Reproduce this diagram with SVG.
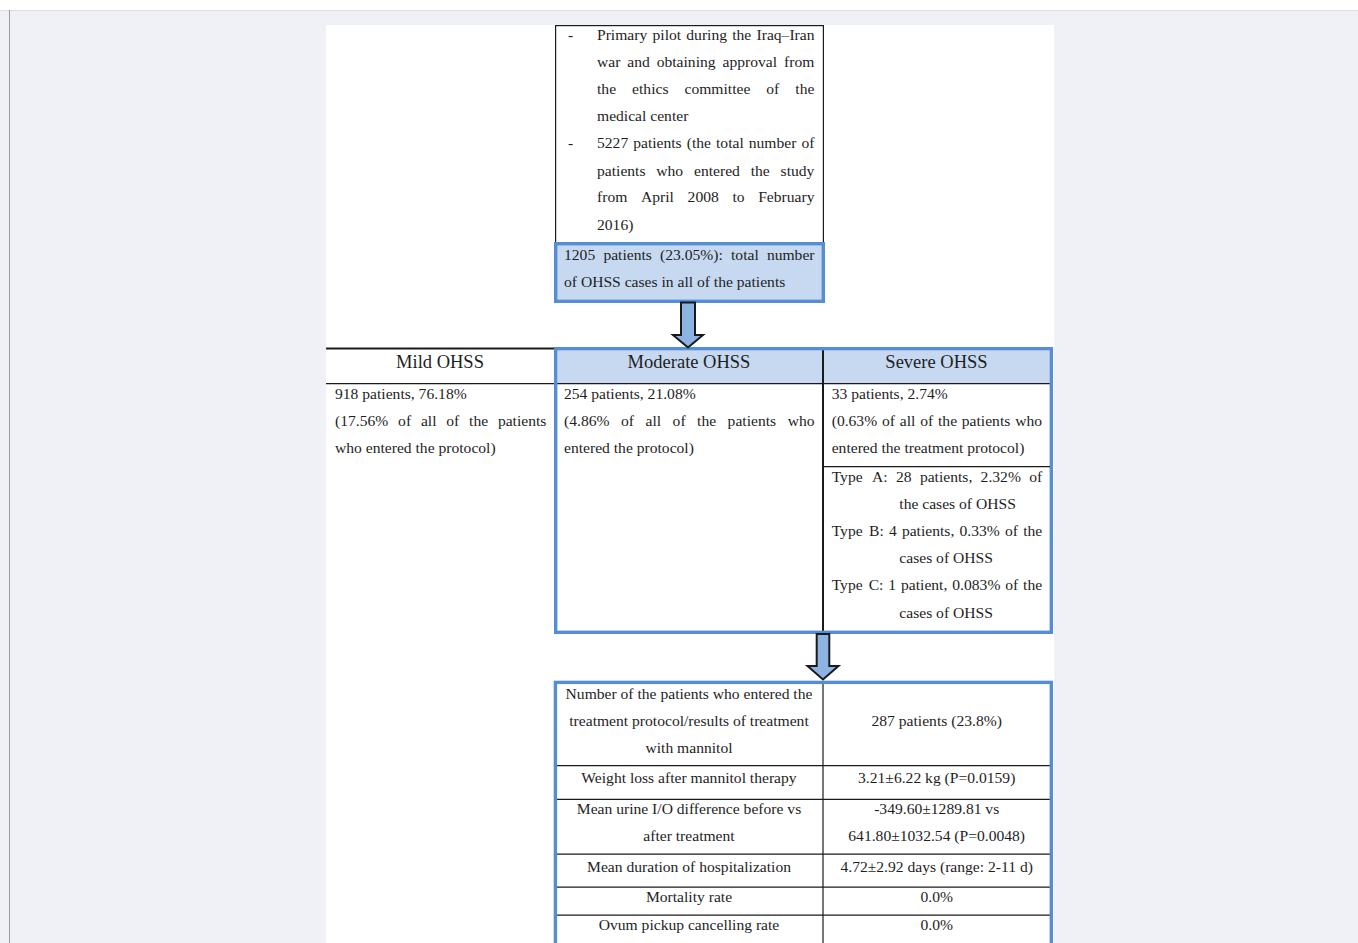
<svg xmlns="http://www.w3.org/2000/svg" width="1358" height="943" viewBox="0 0 1358 943" font-family="'Liberation Serif', 'Times New Roman', Times, serif">
<style>
  text { font-family: 'Liberation Serif', 'Times New Roman', Times, serif; font-size: 15.6px; fill: #1e1e1e; }
  .hd { font-size: 18.5px; }
  .c { text-anchor: middle; }
  .blue { stroke: #558ed5; stroke-width: 3.4; }
  .nofill { fill: none; }
  .lbfill { fill: #c6d9f1; }
  .ln { stroke: #1a1a1a; stroke-width: 1.2; fill: none; }
  .ln2 { stroke: #1a1a1a; stroke-width: 2; fill: none; }
  .arrow { fill: #8db3e2; stroke: #1a1a1a; stroke-width: 2; stroke-linejoin: miter; }
</style>
<!-- page background -->
<rect x="0" y="0" width="1358" height="943" fill="#ffffff"/>
<rect x="0" y="10" width="1358" height="933" fill="#f0f1f6"/>
<line x1="0" y1="10.5" x2="1358" y2="10.5" stroke="#dcdee3" stroke-width="1"/>
<line x1="9.5" y1="10" x2="9.5" y2="943" stroke="#9a9a9a" stroke-width="1"/>
<rect x="326" y="25" width="728" height="918" fill="#ffffff"/>

<g id="node-study">
  <rect x="555.6" y="25.6" width="267.8" height="240" class="ln"/>
  <text x="568" y="40">-</text>
  <text y="40"><tspan x="597">Primary</tspan><tspan x="652.5">pilot</tspan><tspan x="686.3">during</tspan><tspan x="732.2">the</tspan><tspan x="756.5">Iraq–Iran</tspan></text>
  <text y="67"><tspan x="597">war</tspan><tspan x="627.3">and</tspan><tspan x="656.7">obtaining</tspan><tspan x="722.5">approval</tspan><tspan x="784">from</tspan></text>
  <text y="94"><tspan x="597">the</tspan><tspan x="632.1">ethics</tspan><tspan x="684.5">committee</tspan><tspan x="766.3">of</tspan><tspan x="795.3">the</tspan></text>
  <text x="597" y="121">medical center</text>
  <text x="568" y="148">-</text>
  <text y="148"><tspan x="597">5227</tspan><tspan x="633.2">patients</tspan><tspan x="686.7">(the</tspan><tspan x="716">total</tspan><tspan x="748.7">number</tspan><tspan x="801.4">of</tspan></text>
  <text y="175.5"><tspan x="597">patients</tspan><tspan x="656.3">who</tspan><tspan x="694">entered</tspan><tspan x="750.7">the</tspan><tspan x="780.6">study</tspan></text>
  <text y="202"><tspan x="597">from</tspan><tspan x="641">April</tspan><tspan x="687.6">2008</tspan><tspan x="732.4">to</tspan><tspan x="758.2">February</tspan></text>
  <text x="597" y="229.5">2016)</text>
</g>

<g id="node-ohss-total">
  <rect x="555.7" y="243.7" width="267.6" height="57.6" class="blue lbfill"/>
  <text y="260"><tspan x="564">1205</tspan><tspan x="603.4">patients</tspan><tspan x="660">(23.05%):</tspan><tspan x="731">total</tspan><tspan x="766.9">number</tspan></text>
  <text x="564" y="287">of OHSS cases in all of the patients</text>
</g>

<g id="node-mild">
  <line x1="326" y1="348.5" x2="556" y2="348.5" class="ln2"/>
  <line x1="326" y1="383.6" x2="556" y2="383.6" class="ln"/>
  <text class="hd c" x="440" y="368">Mild OHSS</text>
  <text x="335" y="399">918 patients, 76.18%</text>
  <text y="426"><tspan x="335">(17.56%</tspan><tspan x="398.1">of</tspan><tspan x="420.9">all</tspan><tspan x="446.3">of</tspan><tspan x="469.1">the</tspan><tspan x="497.9">patients</tspan></text>
  <text x="335" y="453">who entered the protocol)</text>
</g>

<g id="node-moderate-severe-frame">
  <rect x="557.4" y="350.4" width="492.2" height="33" class="lbfill"/>
  <line x1="556" y1="383.6" x2="1050" y2="383.6" class="ln"/>
  <line x1="823" y1="350" x2="823" y2="632" class="ln2"/>
  <rect x="555.7" y="348.7" width="495.6" height="283.6" class="blue nofill"/>
</g>

<g id="node-moderate">
  <text class="hd c" x="689" y="368">Moderate OHSS</text>
  <text x="564" y="399">254 patients, 21.08%</text>
  <text y="426"><tspan x="564">(4.86%</tspan><tspan x="621">of</tspan><tspan x="645.5">all</tspan><tspan x="672.6">of</tspan><tspan x="697.1">the</tspan><tspan x="727.6">patients</tspan><tspan x="787.7">who</tspan></text>
  <text x="564" y="453">entered the protocol)</text>
</g>

<g id="node-severe">
  <text class="hd c" x="936.5" y="368">Severe OHSS</text>
  <text x="831.7" y="399">33 patients, 2.74%</text>
  <text y="426"><tspan x="831.7">(0.63%</tspan><tspan x="882">of</tspan><tspan x="899.8">all</tspan><tspan x="920.2">of</tspan><tspan x="938">the</tspan><tspan x="961.8">patients</tspan><tspan x="1015.2">who</tspan></text>
  <text x="831.7" y="453">entered the treatment protocol)</text>
  <line x1="823" y1="466.7" x2="1050" y2="466.7" class="ln"/>
  <text y="482"><tspan x="831.7">Type</tspan><tspan x="872.1">A:</tspan><tspan x="896">28</tspan><tspan x="919.9">patients,</tspan><tspan x="980.6">2.32%</tspan><tspan x="1029.2">of</tspan></text>
  <text x="899.3" y="509">the cases of OHSS</text>
  <text y="536"><tspan x="831.7">Type</tspan><tspan x="869">B:</tspan><tspan x="888.9">4</tspan><tspan x="901.9">patients,</tspan><tspan x="959.5">0.33%</tspan><tspan x="1005">of</tspan><tspan x="1023.2">the</tspan></text>
  <text x="899.3" y="563">cases of OHSS</text>
  <text y="590"><tspan x="831.7">Type</tspan><tspan x="868.7">C:</tspan><tspan x="888.3">1</tspan><tspan x="901">patient,</tspan><tspan x="952.3">0.083%</tspan><tspan x="1005.3">of</tspan><tspan x="1023.1">the</tspan></text>
  <text x="899.3" y="617.5">cases of OHSS</text>
</g>

<g id="node-results">
  <line x1="823" y1="684" x2="823" y2="943" class="ln"/>
  <line x1="557" y1="765.7" x2="1050" y2="765.7" class="ln"/>
  <line x1="557" y1="799.3" x2="1050" y2="799.3" class="ln"/>
  <line x1="557" y1="854.2" x2="1050" y2="854.2" class="ln"/>
  <line x1="557" y1="887.2" x2="1050" y2="887.2" class="ln"/>
  <line x1="557" y1="915.2" x2="1050" y2="915.2" class="ln"/>
  <rect x="555.4" y="682.4" width="495.9" height="300" class="blue nofill"/>
  <text class="c" x="689" y="699">Number of the patients who entered the</text>
  <text class="c" x="689" y="726">treatment protocol/results of treatment</text>
  <text class="c" x="689" y="753">with mannitol</text>
  <text class="c" x="936.7" y="726">287 patients (23.8%)</text>
  <text class="c" x="689" y="783">Weight loss after mannitol therapy</text>
  <text class="c" x="936.7" y="783">3.21±6.22 kg (P=0.0159)</text>
  <text class="c" x="689" y="813.5">Mean urine I/O difference before vs</text>
  <text class="c" x="689" y="840.5">after treatment</text>
  <text class="c" x="936.7" y="813.5">-349.60±1289.81 vs</text>
  <text class="c" x="936.7" y="840.5">641.80±1032.54 (P=0.0048)</text>
  <text class="c" x="689" y="871.5">Mean duration of hospitalization</text>
  <text class="c" x="936.7" y="871.5">4.72±2.92 days (range: 2-11 d)</text>
  <text class="c" x="689" y="901.5">Mortality rate</text>
  <text class="c" x="936.7" y="901.5">0.0%</text>
  <text class="c" x="689" y="929.5">Ovum pickup cancelling rate</text>
  <text class="c" x="936.7" y="929.5">0.0%</text>
</g>

<g id="connectors">
  <polygon class="arrow" points="681,302.5 695,302.5 695,335 703,335 688,347.5 673,335 681,335"/>
  <polygon class="arrow" points="816.7,634 829.3,634 829.3,666 838.5,666 823,679.5 807.5,666 816.7,666"/>
</g>
</svg>
